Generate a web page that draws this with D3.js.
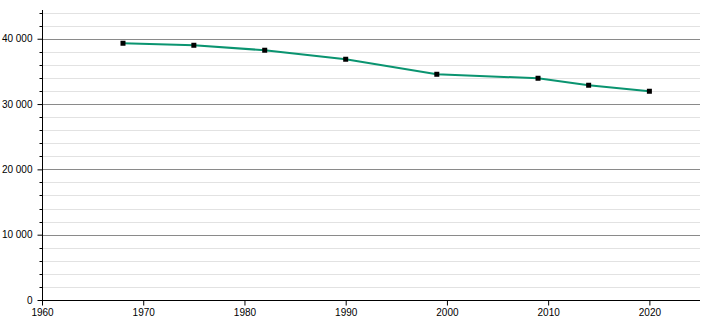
<!DOCTYPE html>
<html>
<head>
<meta charset="utf-8">
<script src="https://cdn.jsdelivr.net/npm/d3@7"></script>
<style>
  body { margin: 0; background: #fff; }
  text { font-family: "Liberation Sans", Arial, sans-serif; font-size: 10px; fill: #000; }
</style>
</head>
<body>
<script>
const years = [1968, 1975, 1982, 1990, 1999, 2009, 2014, 2020];
const population = [39310, 39000, 38240, 36860, 34560, 33950, 32880, 31960];
const xTicks = [1960, 1970, 1980, 1990, 2000, 2010, 2020];
const yMajor = [0, 10000, 20000, 30000, 40000];

const width = 710;
const height = 320;
const mLeft = 42, mRight = 700, mTop = 10, mBottom = 300;

const x = d3.scaleLinear().domain([1960, 2025]).range([mLeft, mRight]);
const y = d3.scaleLinear().domain([0, 44400]).range([mBottom, mTop]);

const fmt = d => d3.format(",")(d).replace(/,/g, "\u00a0");

const svg = d3.select('body')
    .append('svg')
    .attr('width', width)
    .attr('height', height);

// minor grid every 2000
const yMinor = d3.range(2000, 44001, 2000).filter(v => v % 10000 !== 0);
svg.append('g').selectAll('line')
    .data(yMinor)
    .enter()
    .append('line')
    .attr('x1', mLeft).attr('x2', mRight)
    .attr('y1', d => Math.round(y(d)) + 0.5).attr('y2', d => Math.round(y(d)) + 0.5)
    .attr('stroke', '#e2e2e2');

svg.append('g').selectAll('line')
    .data(yMajor.filter(v => v > 0))
    .enter()
    .append('line')
    .attr('x1', mLeft).attr('x2', mRight)
    .attr('y1', d => Math.round(y(d)) + 0.5).attr('y2', d => Math.round(y(d)) + 0.5)
    .attr('stroke', '#8a8a8a');

// y axis
const yAxis = svg.append('g')
    .attr('transform', `translate(${mLeft + 0.5},0)`)
    .call(d3.axisLeft(y).tickValues(yMajor).tickFormat(fmt).tickSize(5).tickPadding(5))
    .call(g => g.select('.domain').attr('d', `M0,${mTop}V${mBottom}`));
yAxis.selectAll('.minor')
    .data(yMinor)
    .enter()
    .append('line')
    .attr('class', 'minor')
    .attr('x1', -3).attr('x2', 0)
    .attr('y1', d => Math.round(y(d)) + 0.5).attr('y2', d => Math.round(y(d)) + 0.5)
    .attr('stroke', '#000');

// x axis
svg.append('g')
    .attr('transform', `translate(0,${mBottom + 0.5})`)
    .call(d3.axisBottom(x).tickValues(xTicks).tickFormat(d3.format('d')).tickSize(5).tickPadding(3))
    .call(g => g.select('.domain').attr('d', `M${mLeft},0H${mRight}`));

svg.selectAll('.domain').attr('stroke', '#000');
svg.selectAll('.tick line').attr('stroke', '#000');
svg.selectAll('.tick text').style('font-family', '"Liberation Sans", Arial, sans-serif').style('font-size', '10px');

// line
const line = d3.line()
    .x((d, i) => x(years[i]))
    .y(d => y(d));

svg.append('path')
    .datum(population)
    .attr('d', line)
    .attr('fill', 'none')
    .attr('stroke', '#0a9470')
    .attr('stroke-width', 2);

svg.append('g').selectAll('rect')
    .data(population)
    .enter()
    .append('rect')
    .attr('x', (d, i) => x(years[i]) - 2.5)
    .attr('y', d => y(d) - 2.5)
    .attr('width', 5)
    .attr('height', 5)
    .attr('fill', '#000');
</script>
</body>
</html>
